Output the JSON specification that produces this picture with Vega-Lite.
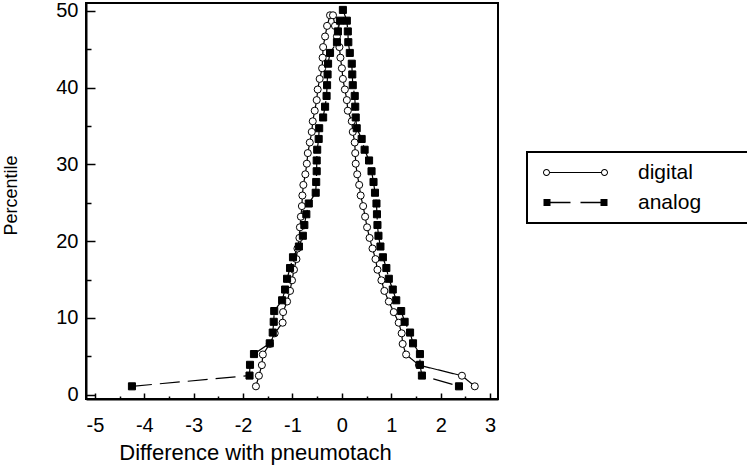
{
  "$schema": "https://vega.github.io/schema/vega-lite/v6.json",
  "width": 412,
  "height": 396,
  "autosize": {"type": "none"},
  "padding": {"left": 86, "top": 3, "right": 249, "bottom": 69},
  "background": "white",
  "config": {
    "view": {"stroke": "black", "strokeWidth": 2},
    "legend": {"strokeWidth": 2},
    "axis": {
      "domainColor": "black", "domainWidth": 2, "tickColor": "black", "tickWidth": 1.5,
      "labelColor": "black", "titleColor": "black",
      "labelFont": "Liberation Sans", "titleFont": "Liberation Sans",
      "labelFontSize": 20, "titleFontSize": 22, "titleFontWeight": "normal", "grid": false,
      "labelFlush": false, "labelOverlap": false
    }
  },
  "data": {"values": [
    {"s":"digital","i":1,"d":-1.74,"p":1.1},
    {"s":"digital","i":2,"d":-1.68,"p":2.48},
    {"s":"digital","i":3,"d":-1.62,"p":3.86},
    {"s":"digital","i":4,"d":-1.60,"p":5.24},
    {"s":"digital","i":5,"d":-1.46,"p":6.62},
    {"s":"digital","i":6,"d":-1.36,"p":8.0},
    {"s":"digital","i":7,"d":-1.20,"p":9.38},
    {"s":"digital","i":8,"d":-1.19,"p":10.76},
    {"s":"digital","i":9,"d":-1.11,"p":12.14},
    {"s":"digital","i":10,"d":-1.05,"p":13.52},
    {"s":"digital","i":11,"d":-1.01,"p":14.9},
    {"s":"digital","i":12,"d":-0.97,"p":16.28},
    {"s":"digital","i":13,"d":-0.92,"p":17.66},
    {"s":"digital","i":14,"d":-0.90,"p":19.04},
    {"s":"digital","i":15,"d":-0.86,"p":20.42},
    {"s":"digital","i":16,"d":-0.85,"p":21.8},
    {"s":"digital","i":17,"d":-0.83,"p":23.18},
    {"s":"digital","i":18,"d":-0.81,"p":24.56},
    {"s":"digital","i":19,"d":-0.80,"p":25.94},
    {"s":"digital","i":20,"d":-0.78,"p":27.32},
    {"s":"digital","i":21,"d":-0.74,"p":28.7},
    {"s":"digital","i":22,"d":-0.71,"p":30.08},
    {"s":"digital","i":23,"d":-0.69,"p":31.46},
    {"s":"digital","i":24,"d":-0.65,"p":32.84},
    {"s":"digital","i":25,"d":-0.61,"p":34.22},
    {"s":"digital","i":26,"d":-0.59,"p":35.6},
    {"s":"digital","i":27,"d":-0.55,"p":36.98},
    {"s":"digital","i":28,"d":-0.51,"p":38.36},
    {"s":"digital","i":29,"d":-0.49,"p":39.74},
    {"s":"digital","i":30,"d":-0.45,"p":41.12},
    {"s":"digital","i":31,"d":-0.40,"p":42.5},
    {"s":"digital","i":32,"d":-0.39,"p":43.88},
    {"s":"digital","i":33,"d":-0.38,"p":45.26},
    {"s":"digital","i":34,"d":-0.34,"p":46.64},
    {"s":"digital","i":35,"d":-0.30,"p":48.02},
    {"s":"digital","i":36,"d":-0.24,"p":49.4},
    {"s":"digital","i":37,"d":-0.18,"p":49.4},
    {"s":"digital","i":38,"d":-0.14,"p":48.02},
    {"s":"digital","i":39,"d":-0.10,"p":46.64},
    {"s":"digital","i":40,"d":-0.05,"p":45.26},
    {"s":"digital","i":41,"d":-0.03,"p":43.88},
    {"s":"digital","i":42,"d":0.00,"p":42.5},
    {"s":"digital","i":43,"d":0.02,"p":41.12},
    {"s":"digital","i":44,"d":0.06,"p":39.74},
    {"s":"digital","i":45,"d":0.10,"p":38.36},
    {"s":"digital","i":46,"d":0.12,"p":36.98},
    {"s":"digital","i":47,"d":0.20,"p":35.6},
    {"s":"digital","i":48,"d":0.22,"p":34.22},
    {"s":"digital","i":49,"d":0.26,"p":32.84},
    {"s":"digital","i":50,"d":0.27,"p":31.46},
    {"s":"digital","i":51,"d":0.28,"p":30.08},
    {"s":"digital","i":52,"d":0.31,"p":28.7},
    {"s":"digital","i":53,"d":0.35,"p":27.32},
    {"s":"digital","i":54,"d":0.38,"p":25.94},
    {"s":"digital","i":55,"d":0.43,"p":24.56},
    {"s":"digital","i":56,"d":0.47,"p":23.18},
    {"s":"digital","i":57,"d":0.51,"p":21.8},
    {"s":"digital","i":58,"d":0.56,"p":20.42},
    {"s":"digital","i":59,"d":0.62,"p":19.04},
    {"s":"digital","i":60,"d":0.68,"p":17.66},
    {"s":"digital","i":61,"d":0.72,"p":16.28},
    {"s":"digital","i":62,"d":0.80,"p":14.9},
    {"s":"digital","i":63,"d":0.86,"p":13.52},
    {"s":"digital","i":64,"d":0.95,"p":12.14},
    {"s":"digital","i":65,"d":1.05,"p":10.76},
    {"s":"digital","i":66,"d":1.15,"p":9.38},
    {"s":"digital","i":67,"d":1.21,"p":8.0},
    {"s":"digital","i":68,"d":1.23,"p":6.62},
    {"s":"digital","i":69,"d":1.30,"p":5.24},
    {"s":"digital","i":70,"d":1.56,"p":3.86},
    {"s":"digital","i":71,"d":2.43,"p":2.48},
    {"s":"digital","i":72,"d":2.69,"p":1.1},
    {"s":"analog","i":1,"d":-4.25,"p":1.1},
    {"s":"analog","i":2,"d":-1.87,"p":2.5},
    {"s":"analog","i":3,"d":-1.86,"p":3.9},
    {"s":"analog","i":4,"d":-1.78,"p":5.3},
    {"s":"analog","i":5,"d":-1.46,"p":6.7},
    {"s":"analog","i":6,"d":-1.40,"p":8.1},
    {"s":"analog","i":7,"d":-1.38,"p":9.5},
    {"s":"analog","i":8,"d":-1.37,"p":10.9},
    {"s":"analog","i":9,"d":-1.21,"p":12.3},
    {"s":"analog","i":10,"d":-1.15,"p":13.7},
    {"s":"analog","i":11,"d":-1.11,"p":15.1},
    {"s":"analog","i":12,"d":-1.05,"p":16.5},
    {"s":"analog","i":13,"d":-0.99,"p":17.9},
    {"s":"analog","i":14,"d":-0.87,"p":19.3},
    {"s":"analog","i":15,"d":-0.79,"p":20.7},
    {"s":"analog","i":16,"d":-0.76,"p":22.1},
    {"s":"analog","i":17,"d":-0.72,"p":23.5},
    {"s":"analog","i":18,"d":-0.67,"p":24.9},
    {"s":"analog","i":19,"d":-0.53,"p":26.3},
    {"s":"analog","i":20,"d":-0.52,"p":27.7},
    {"s":"analog","i":21,"d":-0.51,"p":29.1},
    {"s":"analog","i":22,"d":-0.51,"p":30.5},
    {"s":"analog","i":23,"d":-0.50,"p":31.9},
    {"s":"analog","i":24,"d":-0.47,"p":33.3},
    {"s":"analog","i":25,"d":-0.46,"p":34.7},
    {"s":"analog","i":26,"d":-0.38,"p":36.1},
    {"s":"analog","i":27,"d":-0.34,"p":37.5},
    {"s":"analog","i":28,"d":-0.31,"p":38.9},
    {"s":"analog","i":29,"d":-0.30,"p":40.3},
    {"s":"analog","i":30,"d":-0.29,"p":41.7},
    {"s":"analog","i":31,"d":-0.28,"p":43.1},
    {"s":"analog","i":32,"d":-0.24,"p":44.5},
    {"s":"analog","i":33,"d":-0.10,"p":45.9},
    {"s":"analog","i":34,"d":-0.08,"p":47.3},
    {"s":"analog","i":35,"d":-0.04,"p":48.7},
    {"s":"analog","i":36,"d":0.02,"p":50.1},
    {"s":"analog","i":37,"d":0.10,"p":48.7},
    {"s":"analog","i":38,"d":0.12,"p":47.3},
    {"s":"analog","i":39,"d":0.13,"p":45.9},
    {"s":"analog","i":40,"d":0.16,"p":44.5},
    {"s":"analog","i":41,"d":0.20,"p":43.1},
    {"s":"analog","i":42,"d":0.21,"p":41.7},
    {"s":"analog","i":43,"d":0.22,"p":40.3},
    {"s":"analog","i":44,"d":0.26,"p":38.9},
    {"s":"analog","i":45,"d":0.27,"p":37.5},
    {"s":"analog","i":46,"d":0.28,"p":36.1},
    {"s":"analog","i":47,"d":0.30,"p":34.7},
    {"s":"analog","i":48,"d":0.40,"p":33.3},
    {"s":"analog","i":49,"d":0.46,"p":31.9},
    {"s":"analog","i":50,"d":0.55,"p":30.5},
    {"s":"analog","i":51,"d":0.60,"p":29.1},
    {"s":"analog","i":52,"d":0.64,"p":27.7},
    {"s":"analog","i":53,"d":0.67,"p":26.3},
    {"s":"analog","i":54,"d":0.70,"p":24.9},
    {"s":"analog","i":55,"d":0.71,"p":23.5},
    {"s":"analog","i":56,"d":0.72,"p":22.1},
    {"s":"analog","i":57,"d":0.74,"p":20.7},
    {"s":"analog","i":58,"d":0.78,"p":19.3},
    {"s":"analog","i":59,"d":0.83,"p":17.9},
    {"s":"analog","i":60,"d":0.90,"p":16.5},
    {"s":"analog","i":61,"d":0.95,"p":15.1},
    {"s":"analog","i":62,"d":1.03,"p":13.7},
    {"s":"analog","i":63,"d":1.10,"p":12.3},
    {"s":"analog","i":64,"d":1.20,"p":10.9},
    {"s":"analog","i":65,"d":1.27,"p":9.5},
    {"s":"analog","i":66,"d":1.38,"p":8.1},
    {"s":"analog","i":67,"d":1.44,"p":6.7},
    {"s":"analog","i":68,"d":1.58,"p":5.3},
    {"s":"analog","i":69,"d":1.58,"p":3.9},
    {"s":"analog","i":70,"d":1.62,"p":2.5},
    {"s":"analog","i":71,"d":2.37,"p":1.1}
  ]},
  "encoding": {
    "x": {"field": "d", "type": "quantitative",
      "scale": {"domain": [-5.18, 3.16], "nice": false, "zero": false},
      "axis": {
        "values": [-5,-4.5,-4,-3.5,-3,-2.5,-2,-1.5,-1,-0.5,0,0.5,1,1.5,2,2.5,3],
        "labelExpr": "datum.value % 1 === 0 ? '' + datum.value : ''",
        "tickSize": {"condition": {"test": "datum.value % 1 === 0", "value": -6}, "value": -3},
        "labelPadding": 22,
        "title": "Difference with pneumotach",
        "titleX": 169, "titleY": 53, "titleBaseline": "middle", "titleAlign": "center"
      }},
    "y": {"field": "p", "type": "quantitative",
      "scale": {"domain": [-0.55, 51], "nice": false, "zero": false},
      "axis": {
        "values": [0,5,10,15,20,25,30,35,40,45,50],
        "labelExpr": "datum.value % 10 === 0 ? '' + datum.value : ''",
        "tickSize": {"condition": {"test": "datum.value % 10 === 0", "value": -9}, "value": -5},
        "labelPadding": 17,
        "title": "Percentile",
        "titleFontSize": 18,
        "titleX": -75, "titleY": 192, "titleBaseline": "middle", "titleAlign": "center", "titleAngle": -90
      }}
  },
  "resolve": {
    "scale": {"shape": "independent", "fill": "independent"},
    "legend": {"shape": "independent", "fill": "independent"}
  },
  "layer": [
    {
      "mark": {"type": "line", "color": "black", "strokeWidth": 1.2},
      "encoding": {
        "detail": {"field": "s", "type": "nominal"},
        "order": {"field": "i", "type": "quantitative"},
        "strokeDash": {"field": "s", "type": "nominal",
          "scale": {"domain": ["analog", "digital"], "range": [[20, 8], [1, 0]]},
          "legend": null}
      }
    },
    {
      "mark": {"type": "point", "filled": true, "stroke": "black", "strokeWidth": 1, "opacity": 1, "size": 50},
      "encoding": {
        "fill": {"field": "s", "type": "nominal",
          "scale": {"domain": ["analog", "digital"], "range": ["black", "white"]},
          "legend": null},
        "shape": {"field": "s", "type": "nominal",
          "scale": {"domain": ["analog", "digital"], "range": ["square", "circle"]},
          "legend": null}
      }
    },
    {
      "mark": {"type": "point", "filled": true, "stroke": "black", "strokeWidth": 1, "opacity": 0, "size": 100},
      "encoding": {
        "shape": {"field": "s", "type": "nominal",
          "scale": {"domain": ["digital", "analog"], "range": [
            "M-5.1,0A0.7,0.7 0 1,1 -6.5,0A0.7,0.7 0 1,1 -5.1,0ZM-5.3,0A0.5,0.5 0 1,0 -6.3,0A0.5,0.5 0 1,0 -5.3,0ZM-5.1,-0.12H5.1V0.12H-5.1ZM6.5,0A0.7,0.7 0 1,1 5.1,0A0.7,0.7 0 1,1 6.5,0ZM6.3,0A0.5,0.5 0 1,0 5.3,0A0.5,0.5 0 1,0 6.3,0ZM32,0",
            "M-6.4,-0.7H-5V0.7H-6.4ZM-5,-0.15H-1V0.15H-5ZM1,-0.15H5V0.15H1ZM5,-0.7H6.4V0.7H5ZM32,0"]},
          "legend": {
            "orient": "none", "legendX": 441, "legendY": 149, "title": null,
            "strokeColor": "black", "padding": 10,
            "symbolSize": 100, "symbolOffset": 28, "labelOffset": 52,
            "symbolOpacity": 1, "symbolStrokeColor": "black", "symbolStrokeWidth": 1,
            "labelFont": "Liberation Sans", "labelFontSize": 21, "labelColor": "black",
            "rowPadding": 8
          }},
        "fill": {"field": "s", "type": "nominal",
          "scale": {"domain": ["digital", "analog"], "range": ["black", "black"]},
          "legend": {
            "orient": "none", "legendX": 441, "legendY": 149, "title": null,
            "strokeColor": "black", "padding": 10,
            "symbolSize": 100, "symbolOffset": 28, "labelOffset": 52,
            "symbolOpacity": 1, "symbolStrokeColor": "black", "symbolStrokeWidth": 1,
            "labelFont": "Liberation Sans", "labelFontSize": 21, "labelColor": "black",
            "rowPadding": 8
          }}
      }
    }
  ]
}
